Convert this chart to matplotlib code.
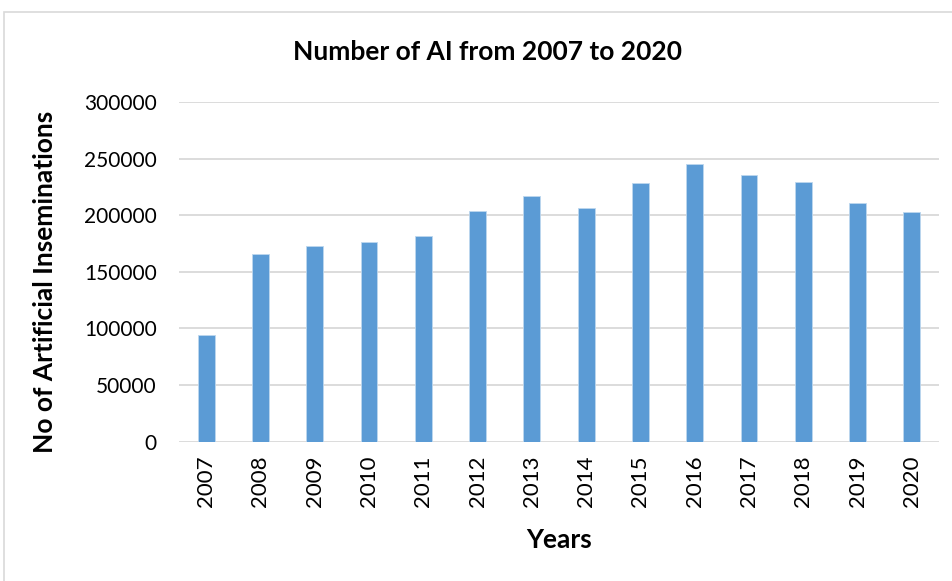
import matplotlib
matplotlib.use("Agg")
import matplotlib.pyplot as plt
from matplotlib.patches import Rectangle

years = ["2007", "2008", "2009", "2010", "2011", "2012", "2013",
         "2014", "2015", "2016", "2017", "2018", "2019", "2020"]
inseminations = [94500, 165800, 172600, 176700, 181700, 203500, 216700,
                 206100, 228700, 245200, 235200, 229300, 211100, 202600]
y_ticks = [0, 50000, 100000, 150000, 200000, 250000, 300000]

W, H = 952, 581
fig = plt.figure(figsize=(W / 100, H / 100), dpi=100)
plt.rcParams["font.family"] = ["Lato", "DejaVu Sans"]

# chart frame
fig.patches.append(Rectangle((4 / W, -0.1), 1.2, 1 - 12 / H + 0.1,
                             transform=fig.transFigure, fill=False,
                             edgecolor="#d9d9d9", linewidth=1.2))

ax = fig.add_axes([179 / W, 1 - 441.7 / H, 760 / W, 339.7 / H])
x = range(len(years))
ax.bar(x, inseminations, width=0.31, color="#5b9bd5",
       edgecolor="#bdd7ee", linewidth=0.6, zorder=3)
ax.set_xlim(-0.5, len(years) - 0.5)
ax.set_ylim(0, 300000)
ax.set_yticks(y_ticks)
ax.set_yticklabels([str(v) for v in y_ticks])
ax.set_xticks(list(x))
ax.set_xticklabels(years, rotation=90)
ax.tick_params(axis="both", length=0, colors="black")
ax.tick_params(axis="y", pad=16, labelsize=15)
ax.tick_params(axis="x", pad=10, labelsize=16)
ax.grid(axis="y", color="#d9d9d9", linewidth=1.3, zorder=0)
for s in ax.spines.values():
    s.set_visible(False)

fig.text(488 / W, 1 - 52 / H, "Number of AI from 2007 to 2020",
         ha="center", va="center", fontsize=19, fontweight="bold")
fig.text(45 / W, 1 - 282 / H, "No of Artificial Inseminations",
         ha="center", va="center", rotation=90, fontsize=19, fontweight="bold")
fig.text(559 / W, 1 - 540 / H, "Years",
         ha="center", va="center", fontsize=19, fontweight="bold")

fig.savefig("out.png", dpi=100)
